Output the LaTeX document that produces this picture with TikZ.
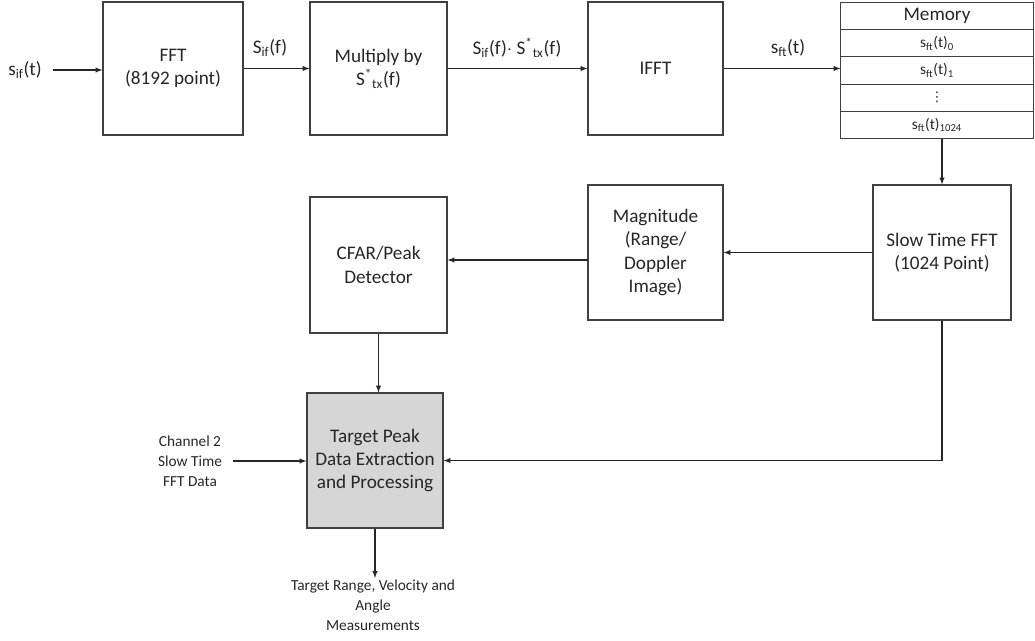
\documentclass[tikz,border=0pt]{standalone}
\usepackage{fontspec}
\setmainfont{Carlito}
\newfontfamily\symfont{DejaVu Sans}
\newcommand{\sbs}[1]{\textsubscript{#1}}
\newcommand{\Sstar}{S\textsuperscript{*}\sbs{tx}}
\begin{document}
\begin{tikzpicture}[x=0.75pt,y=-0.75pt,
    every node/.style={text=black!85},
    blk/.style={draw=black!75,line width=0.8pt,rectangle,inner sep=0pt,align=center,
      font=\fontsize{14.4}{17.5}\selectfont},
    memrow/.style={draw=black!75,line width=0.8pt,rectangle,inner sep=0pt,outer sep=0pt,
      minimum width=193*0.75pt,minimum height=27.2*0.75pt,font=\fontsize{11.5}{13}\selectfont},
    lbl/.style={font=\fontsize{14.4}{17}\selectfont,inner sep=1pt},
    small/.style={align=center,font=\fontsize{11.5}{15}\selectfont,inner sep=1pt},
    arr/.style={->,>=latex,draw=black!85,line width=0.8pt}]
    \useasboundingbox (0,0) rectangle (1035,640);
    % top row
    \node[blk,minimum width=140*0.75pt,minimum height=133*0.75pt] (fft) at (173,68.5) {FFT\\(8192 point)};
    \node[blk,minimum width=137*0.75pt,minimum height=133*0.75pt] (mult) at (378.5,68.5) {Multiply by\\\Sstar(f)};
    \node[blk,minimum width=135*0.75pt,minimum height=133*0.75pt] (ifft) at (655.5,68.5) {IFFT};
    % memory
    \node[memrow,anchor=north,font=\fontsize{14.4}{17}\selectfont] (mem) at (937,2.5) {Memory};
    \node[memrow,anchor=north] (m0) at (mem.south) {s\sbs{ft}(t)\sbs{0}};
    \node[memrow,anchor=north] (m1) at (m0.south) {s\sbs{ft}(t)\sbs{1}};
    \node[memrow,anchor=north] (mdots) at (m1.south) {{\symfont\fontsize{10}{11}\selectfont ⋮}};
    \node[memrow,anchor=north] (mlast) at (mdots.south) {s\sbs{ft}(t)\sbs{1024}};
    % middle row
    \node[blk,minimum width=138*0.75pt,minimum height=135*0.75pt] (slow) at (942,252.5) {Slow Time FFT\\(1024 Point)};
    \node[blk,minimum width=135*0.75pt,minimum height=135*0.75pt] (mag) at (655.5,252.5) {Magnitude\\(Range/\\Doppler\\Image)};
    \node[blk,minimum width=137*0.75pt,minimum height=136*0.75pt] (cfar) at (378.5,265) {CFAR/Peak\\Detector};
    % bottom
    \node[blk,fill=black!16,minimum width=136*0.75pt,minimum height=135*0.75pt] (target) at (375,460.5) {Target Peak\\Data Extraction\\and Processing};
    % labels
    \node[lbl] (sif) at (25,70) {s\sbs{if}(t)};
    \node[lbl] (lfft) at (270,48) {S\sbs{if}(f)};
    \node[lbl] (lmult) at (517,48) {S\sbs{if}(f)$\cdot$ \Sstar(f)};
    \node[lbl] (lifft) at (788,48) {s\sbs{ft}(t)};
    \node[small] (chan) at (190,461) {Channel 2\\Slow Time\\FFT Data};
    \node[small,anchor=north] (out) at (373,578) {Target Range, Velocity and\\Angle\\Measurements};
    \coordinate (m2c) at (588,260);
    % connectors
    \draw[arr] ([xshift=7pt]sif.east) -- (sif.east -| fft.west);
    \draw[arr] (fft.east) -- (mult.west);
    \draw[arr] (mult.east) -- (ifft.west);
    \draw[arr] (ifft.east) -- (ifft.east -| m1.west);
    \draw[arr] (mlast.south -| slow.north) -- (slow.north);
    \draw[arr] (slow.west) -- (mag.east);
    \draw[arr] (m2c) -- (m2c -| cfar.east);
    \draw[arr] (cfar.south) -- (cfar.south |- target.north);
    \draw[arr] (slow.south) |- (target.east);
    \draw[arr] ([xshift=7pt]chan.east) -- (chan.east -| target.west);
    \draw[arr] (target.south) -- (target.south |- out.north);
\end{tikzpicture}
\end{document}
